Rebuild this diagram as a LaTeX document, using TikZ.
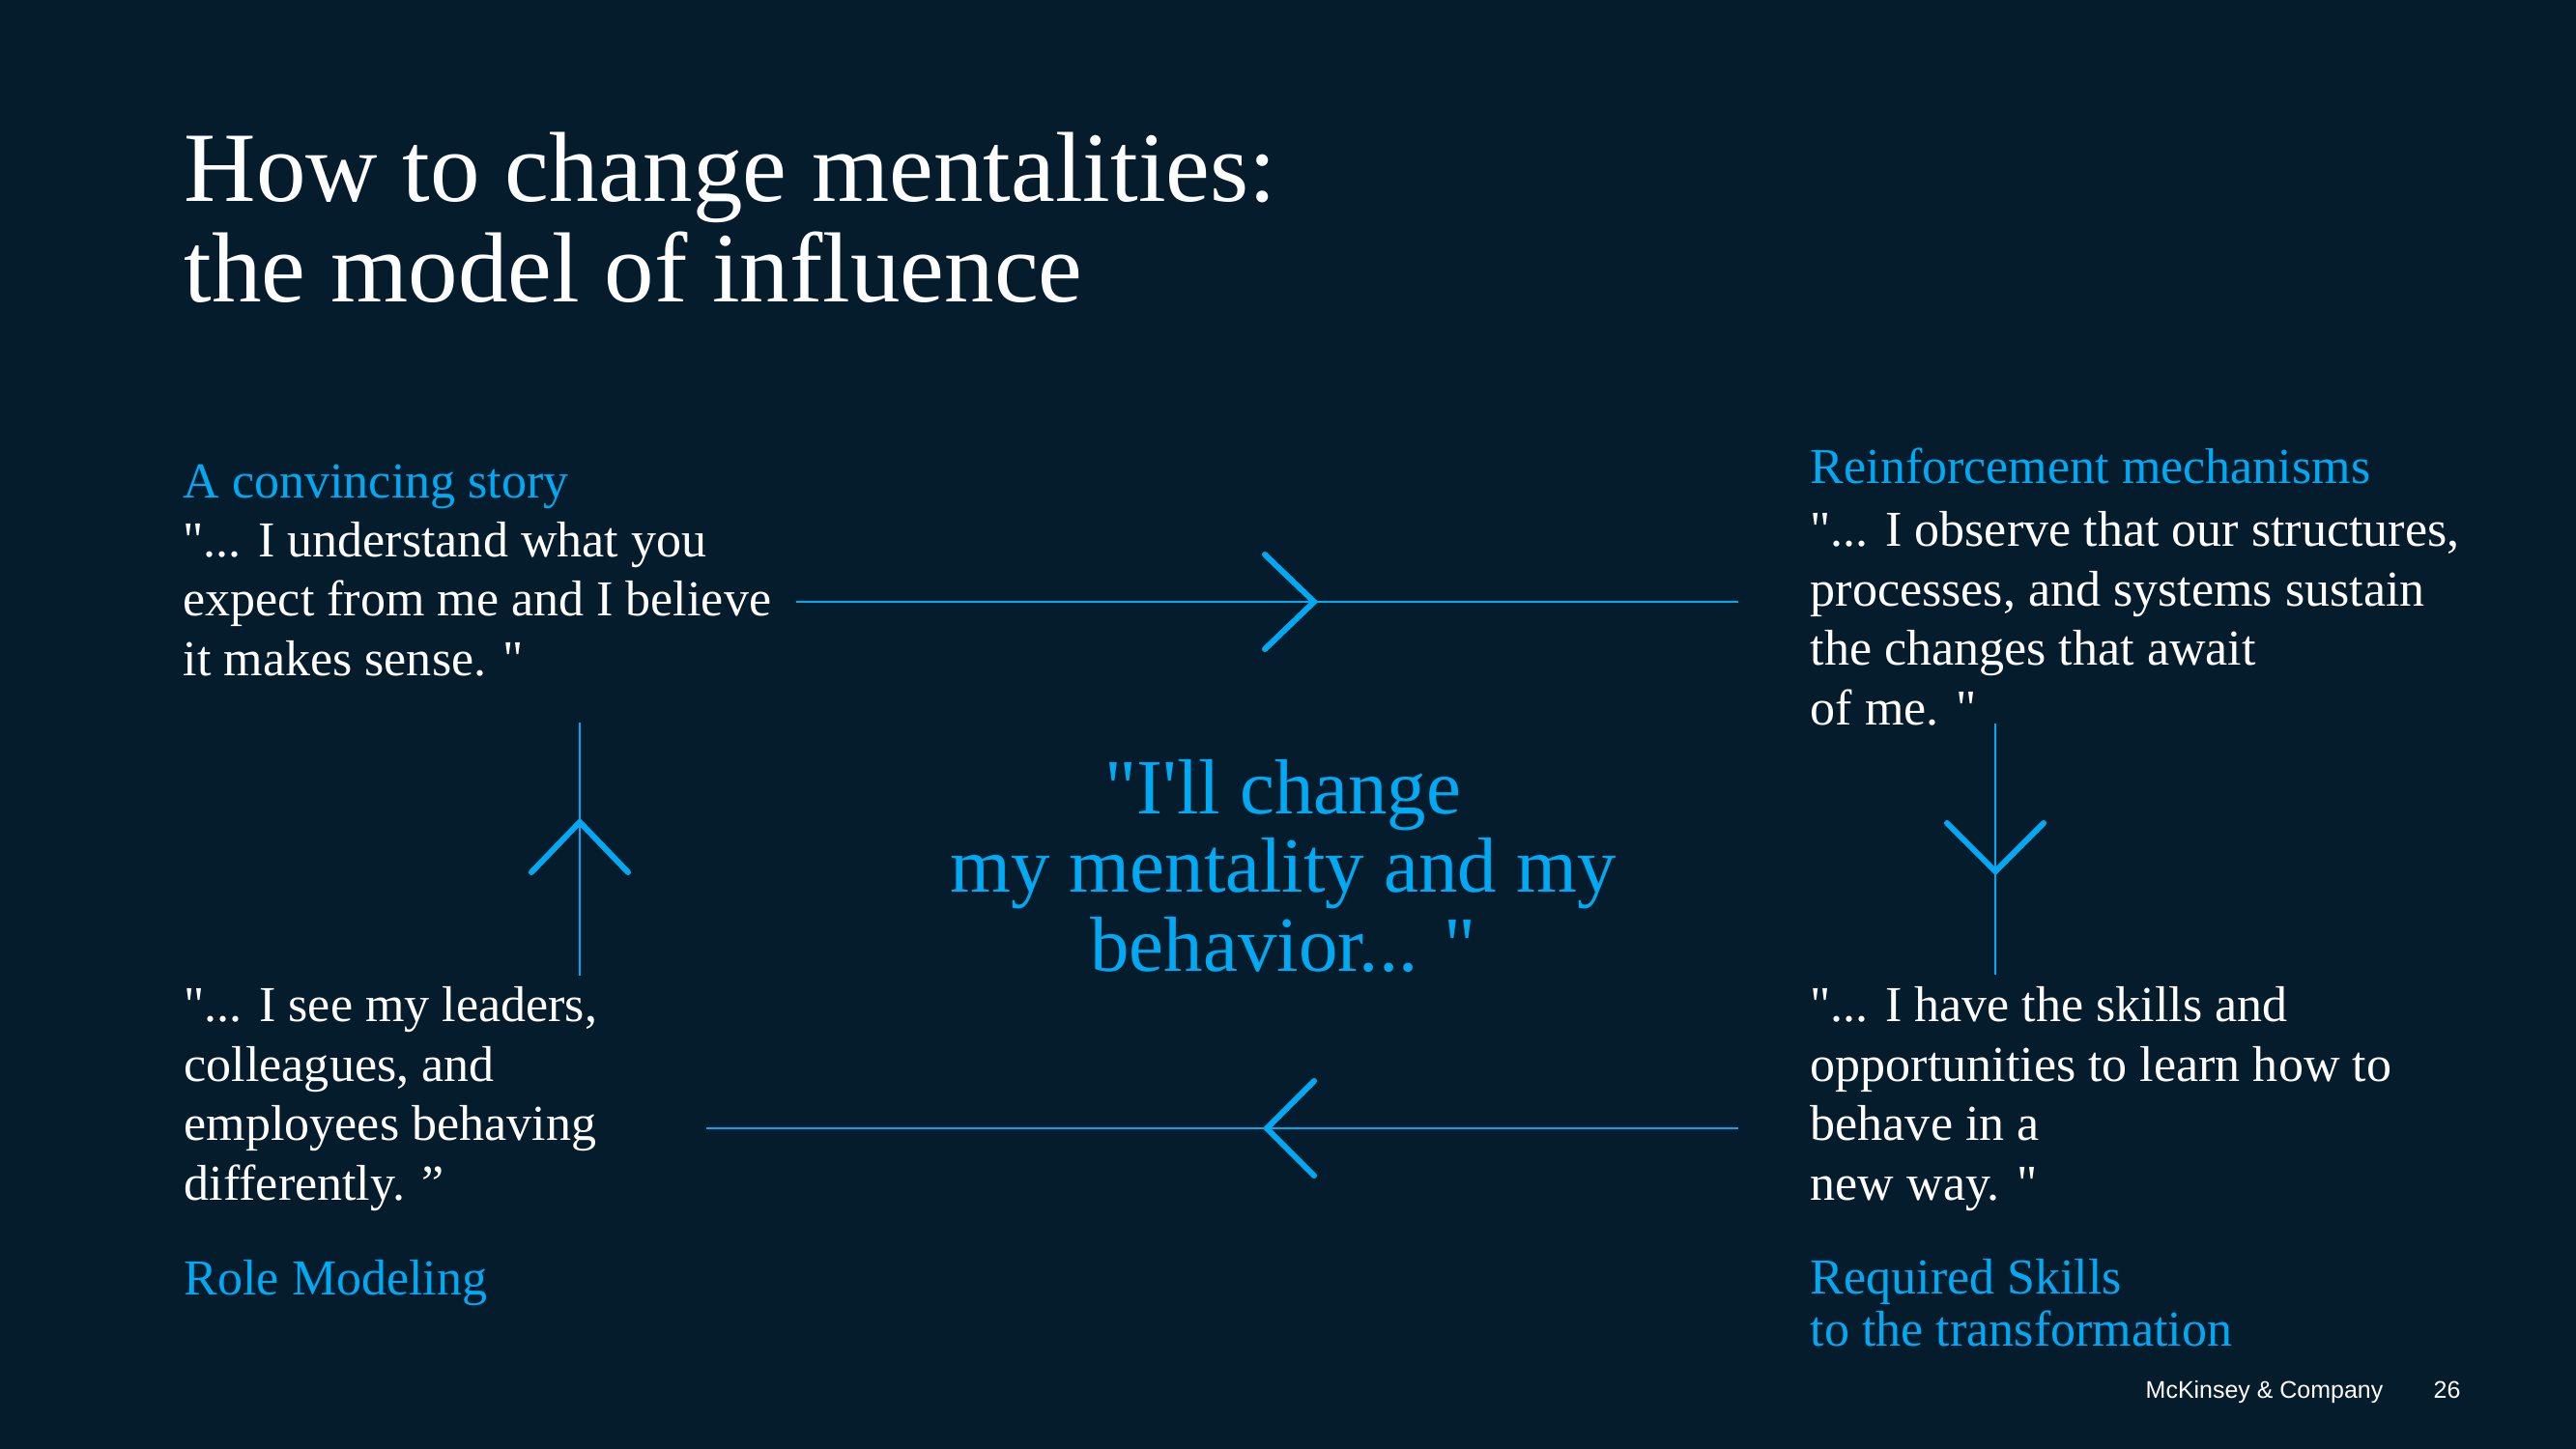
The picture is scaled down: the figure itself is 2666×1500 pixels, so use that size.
\documentclass[tikz,border=0pt]{standalone}
\usepackage{fontspec}
\setmainfont{Liberation Serif}[Ligatures=TeXOff]
\setsansfont{Liberation Sans}
\definecolor{navy}{RGB}{5,28,44}
\definecolor{skyblue}{RGB}{0,169,244}

\tikzset{
  headtext/.style={anchor=base west, inner sep=0pt, align=left, text=skyblue, font=\fontsize{14.8}{15.1}\selectfont},
  quotetext/.style={anchor=base west, inner sep=0pt, align=left, text=white, font=\fontsize{14.8}{17.45}\selectfont},
  flow/.style={skyblue, line width=0.45pt},
  chevron/.style={skyblue, line width=1.7pt, line cap=round, line join=miter}
}

\begin{document}
\begin{tikzpicture}[x=0.01cm, y=-0.01cm]
% Background
\fill[navy] (0,0) rectangle (2666,1500);
\useasboundingbox (0,0) rectangle (2666,1500);

% Title (base = last line)
\node[anchor=base west, inner sep=0pt, align=left, text=white, font=\fontsize{29.3}{29.6}\selectfont] (title) at (190,313)
  {How to change mentalities:\\the model of influence};

% Four quadrants
\node[headtext] (storyhead) at (189,515) {A convincing story};
\node[quotetext] (story) at (189,699) {"... I understand what you\\expect from me and I believe\\it makes sense. "};

\node[headtext] (reinfhead) at (1873,500) {Reinforcement mechanisms};
\node[quotetext] (reinf) at (1873,750) {"... I observe that our structures,\\processes, and systems sustain\\the changes that await\\of me. "};

\node[quotetext] (skills) at (1873,1242) {"... I have the skills and\\opportunities to learn how to\\behave in a\\new way. "};
\node[headtext] (skillshead) at (1873,1393) {Required Skills\\to the transformation};

\node[quotetext] (model) at (190,1242) {"... I see my leaders,\\colleagues, and\\employees behaving\\differently. ”};
\node[headtext] (modelhead) at (190,1340) {Role Modeling};

% Centre statement
\node[anchor=base, inner sep=0pt, align=center, text=skyblue, font=\fontsize{23}{23.05}\selectfont] (change) at (1328,1005)
  {"I'll change\\my mentality and my\\behavior... "};

% Cycle
\coordinate (a1) at (824,623);  \coordinate (a2) at (1799,623);  \coordinate (m1) at (1360,623);
\coordinate (b1) at (2065,749); \coordinate (b2) at (2065,1009); \coordinate (m2) at (2065,902);
\coordinate (c1) at (1799,1168); \coordinate (c2) at (731,1168); \coordinate (m3) at (1311,1168);
\coordinate (d1) at (600,1010); \coordinate (d2) at (600,748);  \coordinate (m4) at (600,851);

\draw[flow] (a1) -- (a2);
\draw[flow] (b1) -- (b2);
\draw[flow] (c1) -- (c2);
\draw[flow] (d1) -- (d2);

\draw[chevron] (m1) ++(-51,-49) -- (m1) -- ++(-51,49);
\draw[chevron] (m2) ++(-50,-50) -- (m2) -- ++(50,-50);
\draw[chevron] (m3) ++(49,-49) -- (m3) -- ++(49,49);
\draw[chevron] (m4) ++(-50,52) -- (m4) -- ++(50,52);

% Footer
\node[anchor=base west, inner sep=0pt, text=white, font=\sffamily\fontsize{7.1}{8}\selectfont] (brand) at (2220,1447) {McKinsey \& Company};
\node[anchor=base west, inner sep=0pt, text=white, font=\sffamily\fontsize{7.1}{8}\selectfont] (page) at (2518,1447) {26};
\end{tikzpicture}
\end{document}
